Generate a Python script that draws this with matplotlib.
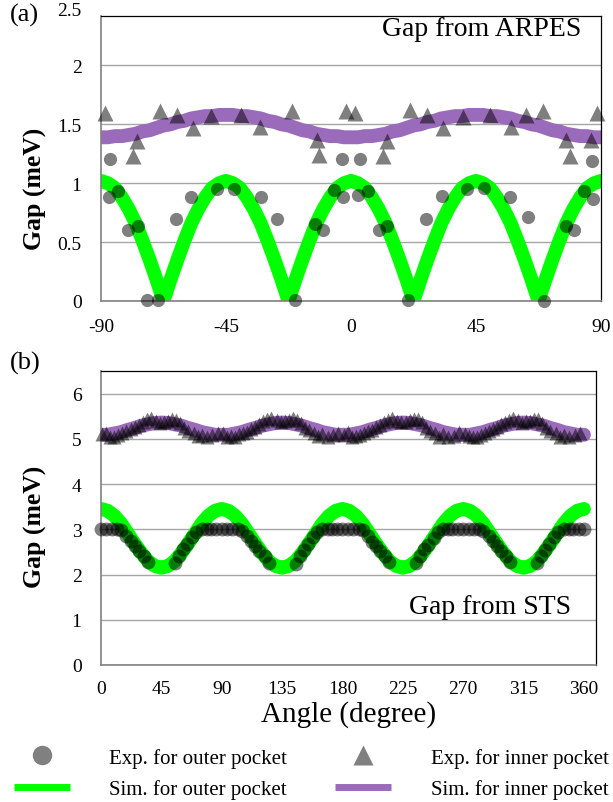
import matplotlib
matplotlib.use("Agg")
import matplotlib.pyplot as plt
from matplotlib.lines import Line2D

plt.rcParams["font.family"] = ["Liberation Serif", "DejaVu Serif"]
plt.rcParams["axes.unicode_minus"] = False

# ---- (a) ARPES gap vs angle ----
sim_a_angle = [-90 + 2.5 * i for i in range(73)]
sim_a_outer = [1.02, 1.00, 0.96, 0.88, 0.78, 0.66, 0.51, 0.35, 0.18, 0.00, 0.18, 0.35, 0.51, 0.66, 0.78, 0.88, 0.96, 1.00,
               1.02, 1.00, 0.96, 0.88, 0.78, 0.66, 0.51, 0.35, 0.18, 0.00, 0.18, 0.35, 0.51, 0.66, 0.78, 0.88, 0.96, 1.00,
               1.02, 1.00, 0.96, 0.88, 0.78, 0.66, 0.51, 0.35, 0.18, 0.00, 0.18, 0.35, 0.51, 0.66, 0.78, 0.88, 0.96, 1.00,
               1.02, 1.00, 0.96, 0.88, 0.78, 0.66, 0.51, 0.35, 0.18, 0.00, 0.18, 0.35, 0.51, 0.66, 0.78, 0.88, 0.96, 1.00,
               1.02]
sim_a_inner = [1.39, 1.39, 1.40, 1.40, 1.41, 1.42, 1.44, 1.45, 1.47, 1.49, 1.50, 1.52, 1.53, 1.55, 1.56, 1.57, 1.57, 1.58,
               1.58, 1.58, 1.57, 1.57, 1.56, 1.55, 1.53, 1.52, 1.50, 1.49, 1.47, 1.45, 1.44, 1.42, 1.41, 1.40, 1.40, 1.39,
               1.39, 1.39, 1.40, 1.40, 1.41, 1.42, 1.44, 1.45, 1.47, 1.49, 1.50, 1.52, 1.53, 1.55, 1.56, 1.57, 1.57, 1.58,
               1.58, 1.58, 1.57, 1.57, 1.56, 1.55, 1.53, 1.52, 1.50, 1.49, 1.47, 1.45, 1.44, 1.42, 1.41, 1.40, 1.40, 1.39,
               1.39]

exp_a_outer_angle = [-86.8, -87.0, -83.8, -80.2, -76.6, -73.5, -69.4, -63.1, -57.6, -48.1, -42.0, -32.5, -26.5, -20.2,
                     -13.0, -10.0, -6.0, -3.3, -3.0, 2.6, 3.2, 6.2, 10.1, 13.1, 20.6, 26.9, 32.6, 41.9, 48.0, 57.2,
                     63.6, 69.5, 77.3, 80.4, 84.0, 86.9, 87.2]
exp_a_outer = [1.21, 0.88, 0.93, 0.60, 0.64, 0.01, 0.01, 0.70, 0.88, 0.95, 0.95, 0.88, 0.70, 0.01,
               0.65, 0.60, 0.94, 1.21, 0.88, 0.90, 1.21, 0.93, 0.60, 0.64, 0.01, 0.70, 0.89, 0.95, 0.96, 0.88,
               0.71, 0.00, 0.64, 0.60, 0.93, 1.19, 0.87]

exp_a_inner_angle = [-88.6, -77.1, -78.6, -68.8, -62.5, -57.0, -50.4, -39.7, -32.8, -21.3, -12.3, -11.4, -1.8,
                     1.4, 11.6, 13.1, 21.2, 27.5, 33.0, 40.2, 50.0, 57.5, 63.0, 69.0, 77.3, 78.8, 86.4, 88.4]
exp_a_inner = [1.60, 1.36, 1.23, 1.61, 1.58, 1.47, 1.57, 1.58, 1.48, 1.61, 1.37, 1.24, 1.61,
               1.60, 1.23, 1.36, 1.62, 1.58, 1.47, 1.56, 1.58, 1.48, 1.58, 1.61, 1.37, 1.23, 1.37, 1.60]

# ---- (b) STS gap vs angle ----
sim_b_angle = [5 * i for i in range(73)]
sim_b_outer = [3.45, 3.41, 3.30, 3.13, 2.91, 2.69, 2.48, 2.30, 2.19, 2.15, 2.19, 2.30, 2.48, 2.69, 2.91, 3.13, 3.30, 3.41,
               3.45, 3.41, 3.30, 3.13, 2.91, 2.69, 2.48, 2.30, 2.19, 2.15, 2.19, 2.30, 2.48, 2.69, 2.91, 3.13, 3.30, 3.41,
               3.45, 3.41, 3.30, 3.13, 2.91, 2.69, 2.48, 2.30, 2.19, 2.15, 2.19, 2.30, 2.48, 2.69, 2.91, 3.13, 3.30, 3.41,
               3.45, 3.41, 3.30, 3.13, 2.91, 2.69, 2.48, 2.30, 2.19, 2.15, 2.19, 2.30, 2.48, 2.69, 2.91, 3.13, 3.30, 3.41,
               3.45]
sim_b_inner = [5.09, 5.09, 5.12, 5.15, 5.20, 5.24, 5.29, 5.32, 5.35, 5.36, 5.35, 5.32, 5.29, 5.24, 5.20, 5.15, 5.12, 5.09,
               5.09, 5.09, 5.12, 5.15, 5.20, 5.24, 5.29, 5.32, 5.35, 5.36, 5.35, 5.32, 5.29, 5.24, 5.20, 5.15, 5.12, 5.09,
               5.09, 5.09, 5.12, 5.15, 5.20, 5.24, 5.29, 5.32, 5.35, 5.36, 5.35, 5.32, 5.29, 5.24, 5.20, 5.15, 5.12, 5.09,
               5.09, 5.09, 5.12, 5.15, 5.20, 5.24, 5.29, 5.32, 5.35, 5.36, 5.35, 5.32, 5.29, 5.24, 5.20, 5.15, 5.12, 5.09,
               5.09]

exp_b_outer_angle = [0, 4, 8, 12, 15, 19, 22, 25, 28, 32, 35, 55, 58, 61, 64, 68, 71, 75, 79, 82, 86,
                     90, 94, 98, 102, 105, 109, 112, 115, 118, 122, 125, 145, 148, 151, 154, 158, 161, 165, 169, 172, 176,
                     180, 184, 188, 192, 195, 199, 202, 205, 208, 212, 215, 235, 238, 241, 244, 248, 251, 255, 259, 262, 266,
                     270, 274, 278, 282, 285, 289, 292, 295, 298, 302, 305, 325, 328, 331, 334, 338, 341, 345, 349, 352, 356,
                     360]
exp_b_outer = [3.00, 3.00, 3.01, 3.00, 2.98, 2.85, 2.74, 2.63, 2.52, 2.41, 2.27, 2.25, 2.41, 2.56, 2.67, 2.82, 2.93, 3.00, 3.01, 3.00, 3.00,
               3.00, 3.01, 3.00, 3.00, 2.97, 2.86, 2.75, 2.62, 2.51, 2.40, 2.26, 2.24, 2.40, 2.55, 2.68, 2.83, 2.94, 3.00, 3.00, 3.01, 3.00,
               3.00, 3.00, 3.01, 3.00, 2.98, 2.85, 2.73, 2.63, 2.53, 2.41, 2.28, 2.25, 2.42, 2.56, 2.66, 2.81, 2.93, 3.00, 3.01, 3.00, 3.00,
               3.00, 3.01, 3.00, 3.00, 2.97, 2.86, 2.74, 2.62, 2.52, 2.40, 2.27, 2.26, 2.41, 2.55, 2.67, 2.82, 2.94, 3.00, 3.00, 3.01, 3.00,
               3.00]

exp_b_inner_angle = [1, 4, 7, 10, 13, 16, 19, 22, 25, 28, 31, 34, 37, 41, 44, 47, 50, 53, 56, 59, 62, 65, 69, 72, 75, 79, 83, 87,
                     91, 94, 97, 100, 103, 106, 109, 112, 115, 118, 121, 124, 127, 131, 134, 137, 140, 143, 146, 149, 152, 155, 159, 162, 165, 169, 173, 177,
                     181, 184, 187, 190, 193, 196, 199, 202, 205, 208, 211, 214, 217, 221, 224, 227, 230, 233, 236, 239, 242, 245, 249, 252, 255, 259, 263, 267,
                     271, 274, 277, 280, 283, 286, 289, 292, 295, 298, 301, 304, 307, 311, 314, 317, 320, 323, 326, 329, 332, 335, 339, 342, 345, 349, 353, 357]
exp_b_inner = [5.10, 5.14, 5.05, 5.05, 5.09, 5.12, 5.17, 5.21, 5.26, 5.31, 5.38, 5.43, 5.46, 5.40, 5.36, 5.38, 5.40, 5.44, 5.42, 5.36, 5.24, 5.18, 5.13, 5.06, 5.09, 5.04, 5.08, 5.14,
               5.12, 5.05, 5.06, 5.04, 5.10, 5.13, 5.16, 5.22, 5.27, 5.33, 5.39, 5.44, 5.45, 5.41, 5.37, 5.39, 5.41, 5.45, 5.41, 5.35, 5.25, 5.19, 5.12, 5.07, 5.10, 5.03, 5.09, 5.13,
               5.09, 5.15, 5.04, 5.06, 5.08, 5.13, 5.18, 5.20, 5.27, 5.30, 5.37, 5.42, 5.47, 5.40, 5.37, 5.38, 5.41, 5.43, 5.43, 5.37, 5.23, 5.17, 5.14, 5.05, 5.10, 5.04, 5.07, 5.15,
               5.11, 5.06, 5.05, 5.05, 5.09, 5.12, 5.17, 5.22, 5.26, 5.32, 5.38, 5.42, 5.45, 5.41, 5.36, 5.39, 5.40, 5.44, 5.43, 5.36, 5.24, 5.18, 5.13, 5.05, 5.09, 5.04, 5.08, 5.14]

GREEN = "#00ff00"
PURPLE = "#9b6bbb"
GRID = "#a6a6a6"

W, H = 613, 803
fig = plt.figure(figsize=(W / 100, H / 100), dpi=100)


def add_axes_px(left, top, right, bottom):
    return fig.add_axes([left / W, 1 - bottom / H, (right - left) / W, (bottom - top) / H])


def style(ax):
    ax.grid(axis="y", color=GRID, lw=1.0)
    ax.set_axisbelow(True)
    ax.tick_params(length=0, labelsize=14)
    for s in ("left", "bottom"):
        ax.spines[s].set_color("#808080")
        ax.spines[s].set_linewidth(1.2)
    for s in ("top", "right"):
        ax.spines[s].set_color("#000000")
        ax.spines[s].set_linewidth(0.9)


line_kw = dict(lw=10, solid_capstyle="round", solid_joinstyle="round", zorder=2)
pt_kw = dict(ls="none", color="black", alpha=0.5, mec="none", zorder=3, clip_on=False)

# panel (a): plot frame stops a little below the 2.5 gridline
ax_a = add_axes_px(101, 17, 601, 302)
ax_a.plot(sim_a_angle, sim_a_inner, color=PURPLE, **line_kw)
ax_a.plot(sim_a_angle, sim_a_outer, color=GREEN, **line_kw)
ax_a.plot(exp_a_outer_angle, exp_a_outer, marker="o", ms=9.5, **pt_kw)
ax_a.plot(exp_a_inner_angle, exp_a_inner, marker="^", ms=11, **pt_kw)
ax_a.set_xlim(-90, 90)
ax_a.set_ylim(0, 2.42)
ax_a.set_xticks([-90, -45, 0, 45, 90])
ax_a.set_yticks([0, 0.5, 1, 1.5, 2])
ax_a.set_yticklabels(["0", "0.5", "1", "1.5", "2"])
ax_a.tick_params(axis="x", pad=12)
ax_a.tick_params(axis="y", pad=14)
style(ax_a)
ax_a.annotate("2.5", xy=(0, 2.5), xycoords=("axes fraction", "data"), xytext=(-14, -3),
              textcoords="offset points", ha="right", va="center", fontsize=14, annotation_clip=False)
fig.text(35 / W, 1 - 189 / H, "Gap (meV)", rotation=90, fontsize=18.5, fontweight="bold",
         ha="center", va="center")
ax_a.text(0.96, 0.955, "Gap from ARPES", transform=ax_a.transAxes, ha="right", va="center", fontsize=20)

# panel (b)
ax_b = add_axes_px(101, 372, 596, 666)
ax_b.plot(sim_b_angle, sim_b_inner, color=PURPLE, **line_kw)
ax_b.plot(sim_b_angle, sim_b_outer, color=GREEN, **line_kw)
ax_b.plot(exp_b_outer_angle, exp_b_outer, marker="o", ms=10, **pt_kw)
ax_b.plot(exp_b_inner_angle, exp_b_inner, marker="^", ms=10, **pt_kw)
ax_b.set_xlim(0, 369)
ax_b.set_ylim(0, 6.5)
ax_b.set_xticks([0, 45, 90, 135, 180, 225, 270, 315, 360])
ax_b.set_yticks([0, 1, 2, 3, 4, 5, 6])
ax_b.tick_params(axis="x", pad=11)
ax_b.tick_params(axis="y", pad=14)
style(ax_b)
fig.text(35 / W, 1 - 527 / H, "Gap (meV)", rotation=90, fontsize=18.5, fontweight="bold",
         ha="center", va="center")
ax_b.set_xlabel("Angle (degree)", fontsize=21, labelpad=2)
ax_b.text(0.95, 0.20, "Gap from STS", transform=ax_b.transAxes, ha="right", va="center", fontsize=20)

fig.text(10 / W, 1 - 15 / H, "(a)", fontsize=19, va="center", ha="left")
fig.text(10 / W, 1 - 363 / H, "(b)", fontsize=19, va="center", ha="left")

handles = [
    Line2D([], [], ls="none", marker="o", ms=14, color="#808080", mec="none"),
    Line2D([], [], color=GREEN, lw=5, solid_capstyle="butt"),
    Line2D([], [], ls="none", marker="^", ms=15, color="#808080", mec="none"),
    Line2D([], [], color=PURPLE, lw=5, solid_capstyle="butt"),
]
labels = ["Exp. for outer pocket", "Sim. for outer pocket", "Exp. for inner pocket", "Sim. for inner pocket"]
fig.legend(handles, labels, ncol=2, loc="lower left", bbox_to_anchor=(0.0, -0.013), frameon=False,
           fontsize=15, handlelength=2.7, handletextpad=1.9, columnspacing=2.3, labelspacing=0.55,
           borderpad=0.15)

fig.savefig("out.png", dpi=100)
